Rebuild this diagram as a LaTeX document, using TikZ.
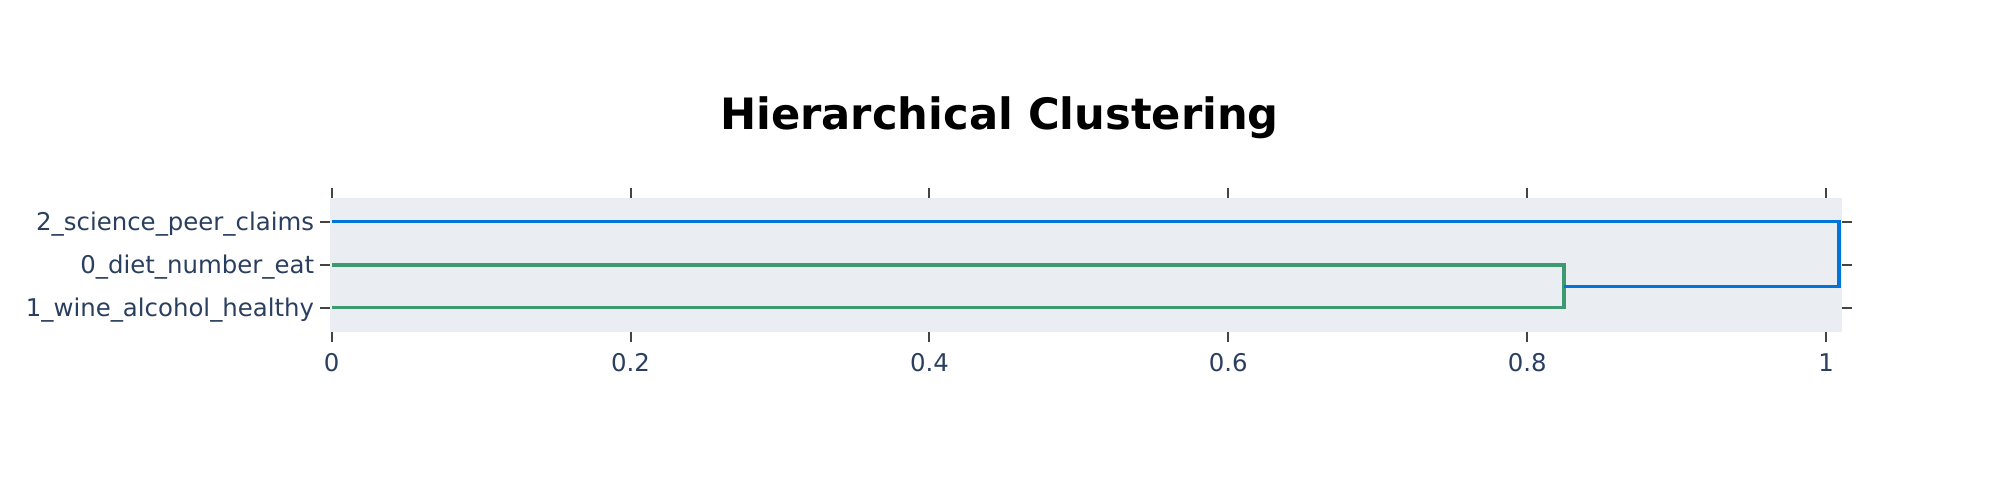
\documentclass[tikz,border=0pt]{standalone}
\usepackage{fontspec}
\setmainfont{DejaVu Sans}
\definecolor{txt}{HTML}{2A3F5F}
\definecolor{bgc}{HTML}{EAEEF3}
\definecolor{tickc}{HTML}{444444}
\definecolor{cblue}{RGB}{0,116,217}
\definecolor{cgreen}{RGB}{61,153,112}
\begin{document}
\begin{tikzpicture}[x=0.5pt,y=-0.5pt,
  lab/.style={inner sep=0pt,text=txt,font=\fontsize{12.2}{14}\selectfont},
  ttl/.style={inner sep=0pt,text=black,font=\bfseries\fontsize{21.6}{24}\selectfont},
  tk/.style={draw=tickc,line width=1pt},
  blueline/.style={draw=cblue,line width=1.8pt,line join=miter},
  greenline/.style={draw=cgreen,line width=1.8pt,line join=miter}]
\useasboundingbox (0,0) rectangle (2000,490);
\fill[bgc] (330,198.3) rectangle (1841.7,331.7);
% x ticks
\foreach \v/\t [count=\i] in {0/0,0.2/0.2,0.4/0.4,0.6/0.6,0.8/0.8,1/1}{
  \draw[tk] ({331.7+1494.3*\v},188.3) -- ({331.7+1494.3*\v},198.3);
  \draw[tk] ({331.7+1494.3*\v},331.7) -- ({331.7+1494.3*\v},341.7);
  \node[lab,anchor=base] (xl\i) at ({331.7+1494.3*\v},371.7) {\t};
}
% y ticks
\foreach \y in {221.7,265,307.7}{
  \draw[tk] (320,\y) -- (330,\y);
  \draw[tk] (1842,\y) -- (1852,\y);
}
\node[ttl,anchor=base] (title) at (999.5,130) {Hierarchical Clustering};
\node[lab,anchor=base east] (ls) at (314.5,230.7) {2\_science\_peer\_claims};
\node[lab,anchor=base east] (ld) at (314.5,274) {0\_diet\_number\_eat};
\node[lab,anchor=base east] (lw) at (314.5,316.7) {1\_wine\_alcohol\_healthy};
% dendrogram
\coordinate (sL) at (331.7,221.7);
\coordinate (sR) at (1839,221.7);
\coordinate (mR) at (1839,286.4);
\coordinate (m) at (1564,286.4);
\coordinate (dL) at (331.7,265);
\coordinate (dR) at (1564,265);
\coordinate (wR) at (1564,307.7);
\coordinate (wL) at (331.7,307.7);
\draw[greenline] (dL) -- (dR) -- (wR) -- (wL);
\draw[blueline] (sL) -- (sR) -- (mR) -- (m);
\end{tikzpicture}
\end{document}
